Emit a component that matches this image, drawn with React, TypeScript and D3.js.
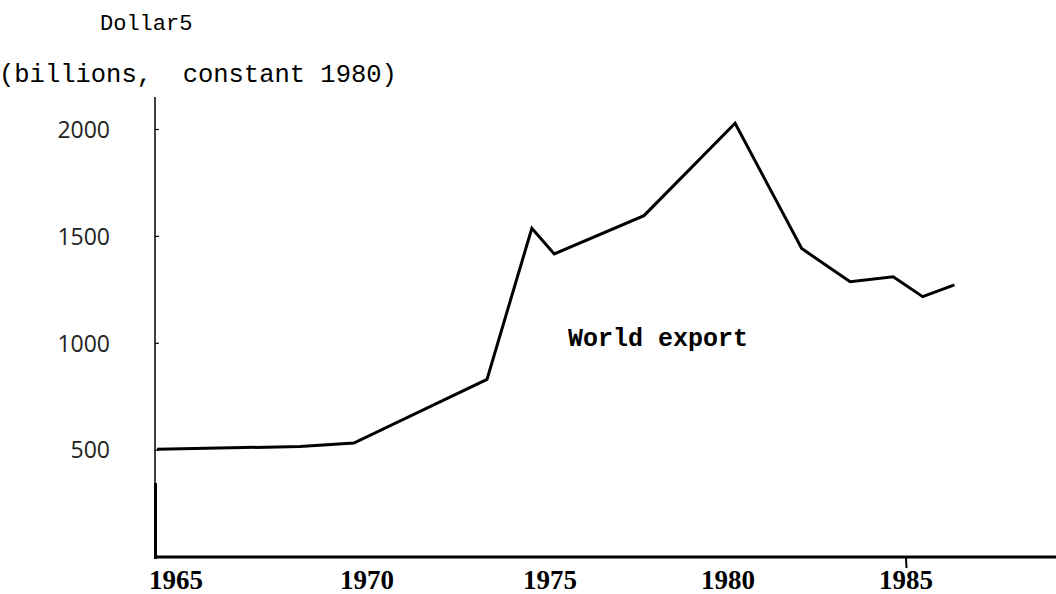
import React, { useEffect, useRef } from 'react';
import * as d3 from 'd3';

// values (years are approximate, as drawn)
const years = [1963.96, 1967.98, 1969.49, 1973.23, 1974.49, 1975.12, 1977.64, 1980.2, 1982.07, 1983.43, 1984.64, 1985.47, 1986.36];
const exports = [504, 517, 533, 831, 1538, 1418, 1597, 2029, 1443, 1288, 1311, 1218, 1273];
const yTicks = [500, 1000, 1500, 2000];
const xTicks = [1965, 1970, 1975, 1980, 1985];

const App = () => {
  const ref = useRef<SVGSVGElement>(null);

  useEffect(() => {
    const width = 1056;
    const height = 594;
    const svg = d3.select(ref.current);
    svg.selectAll('*').remove();

    const x = d3.scaleLinear().domain([1980, 1985]).range([728, 906]);
    const y = d3.scaleLinear().domain([0, 2000]).range([557, 129.5]);
    const x0 = 155;

    // titles
    svg.append('text')
      .attr('x', 100).attr('y', 30)
      .attr('font-family', 'Liberation Mono, monospace')
      .attr('font-size', 22)
      .text('Dollar5');
    svg.append('text')
      .attr('x', -1).attr('y', 82)
      .attr('font-family', 'Liberation Mono, monospace')
      .attr('font-size', 25.5)
      .attr('xml:space', 'preserve')
      .style('white-space', 'pre')
      .text('(billions,  constant 1980)');

    // y axis: thin line with small ticks, thick near the bottom
    svg.append('line')
      .attr('x1', x0).attr('x2', x0)
      .attr('y1', 97).attr('y2', y(0))
      .attr('stroke', '#000').attr('stroke-width', 1.5);
    svg.append('line')
      .attr('x1', x0 + 0.5).attr('x2', x0 + 0.5)
      .attr('y1', 483).attr('y2', y(0) + 2)
      .attr('stroke', '#000').attr('stroke-width', 3);
    svg.append('g')
      .selectAll('line')
      .data(yTicks)
      .join('line')
      .attr('x1', x0).attr('x2', x0 + 4)
      .attr('y1', d => y(d)).attr('y2', d => y(d))
      .attr('stroke', '#000').attr('stroke-width', 1.2);
    svg.append('g')
      .selectAll('text')
      .data(yTicks)
      .join('text')
      .attr('x', 110)
      .attr('y', d => y(d))
      .attr('dy', '0.36em')
      .attr('text-anchor', 'end')
      .attr('font-family', 'Open Sans, sans-serif')
      .attr('font-size', 23)
      .attr('fill', '#222')
      .text(d => d);

    // x axis
    svg.append('line')
      .attr('x1', x0).attr('x2', width)
      .attr('y1', y(0)).attr('y2', y(0))
      .attr('stroke', '#000').attr('stroke-width', 3);
    svg.append('line')
      .attr('x1', x(1985)).attr('x2', x(1985) + 0.5)
      .attr('y1', y(0)).attr('y2', y(0) + 11)
      .attr('stroke', '#000').attr('stroke-width', 2);
    svg.append('g')
      .selectAll('text')
      .data(xTicks)
      .join('text')
      .attr('x', d => x(d))
      .attr('dx', d => (d === 1965 ? -18 : d === 1970 ? -5 : 0))
      .attr('y', 589)
      .attr('text-anchor', 'middle')
      .attr('font-family', 'Liberation Serif, serif')
      .attr('font-weight', 'bold')
      .attr('font-size', 27)
      .text(d => d);

    // the series
    const line = d3.line<number>()
      .x((d, i) => x(years[i]))
      .y(d => y(d));
    svg.append('path')
      .datum(exports)
      .attr('fill', 'none')
      .attr('stroke', '#000')
      .attr('stroke-width', 3)
      .attr('stroke-linejoin', 'miter')
      .attr('d', line);

    svg.append('text')
      .attr('x', 568).attr('y', 346)
      .attr('font-family', 'Liberation Mono, monospace')
      .attr('font-weight', 'bold')
      .attr('font-size', 25)
      .text('World export');

    svg.attr('width', width).attr('height', height);
  }, []);

  return (
    <svg
      ref={ref}
      width={1056}
      height={594}
      style={{ position: 'absolute', left: 0, top: 0, background: '#fff' }}
    />
  );
};

export default App;
